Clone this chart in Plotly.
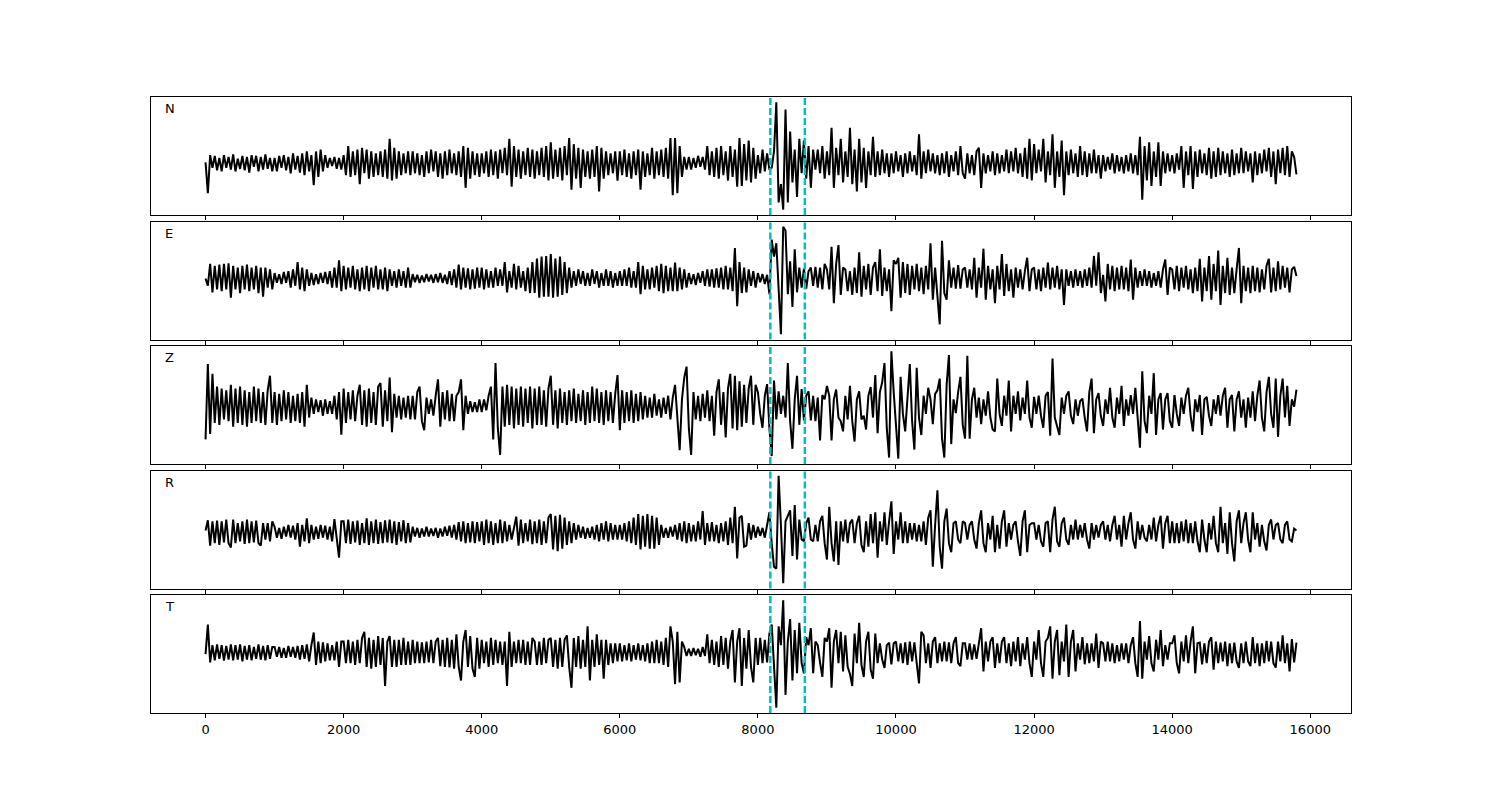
import numpy as np
import plotly.graph_objects as go

# ---------------- data (arbitrary amplitude units) ----------------
# each trace: 15 segments of 1000 samples (30 values each) + last segment 15000..15800 (25 values)
SEGMENT_SPAN = 1000
LAST_START, LAST_END = 15000, 15800

N_TRACE = [
    [0, -85, 20, -15, 18, -22, 12, -25, 20, -15, 15, -20, 22, -25, 10, -18, 18, -22, 15, -28, 20, -12, 18, -25, 15, -20, 22, -18, 12, -25],
    [12, -25, 18, -15, 20, -22, 15, -30, 25, -20, 18, -28, 25, -35, 30, -25, 20, -63, 30, -40, 35, -25, 20, -15, 12, -10, 15, -18, 12, -20],
    [20, -35, 45, -40, 30, -35, 35, -60, 40, -30, 35, -45, 30, -40, 25, -35, 30, -40, 35, -45, 65, -50, 40, -45, 30, -35, 25, -30, 30, -35],
    [30, -30, 25, -35, 20, -40, 30, -30, 35, -25, 30, -40, 25, -45, 30, -35, 35, -30, 25, -35, 30, -40, 45, -70, 40, -45, 30, -35, 25, -40],
    [25, -30, 30, -40, 35, -35, 30, -45, 35, -30, 40, -35, 65, -67, 45, -40, 35, -45, 30, -35, 40, -40, 35, -45, 30, -35, 40, -40, 45, -50],
    [55, -45, 35, -40, 40, -50, 45, -35, 67, -75, 50, -45, 40, -70, 35, -40, 30, -45, 35, -40, 45, -80, 40, -45, 30, -35, 25, -30, 30, -50],
    [30, -35, 35, -40, 25, -45, 30, -35, 35, -75, 30, -40, 25, -35, 40, -45, 30, -35, 35, -40, 40, -45, 67, -90, 67, -85, 45, -40, 15, -20],
    [15, -20, 12, -15, 18, -12, 15, -20, 45, -35, 30, -40, 40, -45, 45, -35, 30, -50, 45, -40, 35, -67, 67, -65, 50, -50, 60, -55, 40, -45],
    [20, -30, 35, -25, 25, -20, -15, 30, 165, -110, -60, -130, 145, -110, 85, -55, 35, -95, 65, -30, 60, -45, 45, -70, 35, -20, 35, -30, 45, -45],
    [30, -35, 95, -70, 40, -35, 65, -55, 30, -40, 95, -60, 35, -80, 65, -55, 40, -70, 30, -35, 70, -40, 30, -35, 35, -30, 25, -40, 25, -30],
    [30, -25, 20, -40, 25, -30, 30, -25, 20, -35, 77, -45, 30, -30, 35, -25, 25, -30, 20, -35, 25, -30, 30, -40, 20, -25, 30, -35, 45, -30],
    [-45, 25, -30, 20, -35, 30, 40, -70, 25, -30, 20, -25, 30, -35, 25, -30, 20, -25, 35, -30, 30, -25, 40, -30, 25, -40, 40, -45, 65, -50],
    [50, -30, 35, -25, 65, -55, 30, -35, 77, -70, 30, -40, 60, -90, 30, -35, 35, -30, 25, -40, 45, -35, 30, -40, 25, -30, 35, -30, 20, -45],
    [20, -25, 15, -20, 25, -30, 20, -25, 15, -30, 20, -25, 25, -30, 20, -35, 70, -103, 45, -50, 55, -65, 30, -40, 55, -65, 30, -30, 25, -25],
    [20, -30, 25, -20, 45, -70, 30, -35, 45, -73, 30, -40, 35, -30, 25, -35, 40, -45, 30, -40, 40, -35, 30, -30, 25, -40, 35, -35, 25, -30],
    [40, -30, 30, -25, 25, -55, 30, -35, 25, -30, 35, -25, 40, -40, 30, -60, 35, -30, 40, -35, 45, -40, 30, 15, -33],
]

E_TRACE = [
    [0, -20, 40, -38, 35, -30, 38, -35, 40, -30, 42, -53, 35, -30, 30, -40, 35, -30, 38, -35, 30, -30, 35, -40, 30, -50, 30, -25, 25, -30],
    [15, -12, 12, -15, 18, -12, 20, -25, 25, -20, 45, -30, 30, -35, 25, -20, 15, -18, 12, -15, 15, -12, 18, -15, 20, -25, 30, -25, 50, -35],
    [35, -30, 30, -25, 35, -30, 25, -35, 30, -30, 35, -35, 30, -25, 35, -30, 25, -30, 30, -35, 25, -20, 20, -25, 25, -20, 20, -25, 30, -25],
    [12, -10, 10, -12, 8, -10, 12, -8, 10, -12, 12, -10, 15, -12, 10, -15, 20, -18, 25, -25, 38, -30, 30, -25, 28, -30, 25, -28, 30, -25],
    [30, -30, 25, -25, 20, -25, 30, -20, 25, -20, 45, -38, 20, -25, 40, -30, 35, -25, 20, -35, 30, -40, 45, -40, 55, -53, 60, -50, 62, -50],
    [67, -53, 55, -50, 60, -45, 45, -40, 30, -25, 20, -20, 25, -15, 20, -20, 15, -20, 25, -15, 20, -25, 15, -20, 25, -20, 20, -25, 15, -20],
    [20, -20, 25, -20, 30, -25, 20, -25, 45, -43, 35, -30, 25, -30, 30, -25, 35, -35, 40, -40, 35, -35, 30, -35, 44, -35, 30, -30, 25, -25],
    [15, -15, 12, -18, 15, -12, 20, -20, 25, -22, 25, -25, 28, -25, 30, -30, 35, -30, 30, -35, 84, -76, 45, -40, 30, -38, 25, -20, 20, -25],
    [15, -10, 12, -15, 10, -43, 107, 60, 97, -48, -153, 142, 132, -43, 47, -78, 80, -38, 30, -25, 27, -28, 20, 30, -20, 32, -25, 30, -30, 40],
    [25, -30, 87, -68, 40, 92, -45, 30, 25, -35, 20, -45, 30, -40, 72, -50, 35, -30, 40, -45, 30, 45, -35, 80, -48, 30, -35, 25, -90, 50],
    [40, 57, -53, 45, -40, 40, -45, 35, -30, 40, -35, 30, -43, 35, -30, 97, -58, 30, -40, -126, 104, -40, -58, 50, -25, 30, -28, 37, -28, 25],
    [30, -25, 25, -30, 57, -53, 30, -25, 82, -58, 35, -30, 25, -68, 35, -30, 67, -48, 40, -35, 25, -53, 30, -25, 25, -30, 20, 57, -35, 25],
    [30, -30, 25, -35, 30, -25, 44, -30, 30, -25, 35, -30, 25, -73, 25, -20, 20, -25, 25, -20, 20, -25, 25, -20, 30, -25, 62, -20, 72, -40],
    [10, -63, 40, -30, 35, -35, 30, -30, 35, -30, 30, -35, 52, -58, 30, -25, 20, -20, 25, -20, 20, -25, 15, -20, 20, -25, 25, 52, -45, 30],
    [25, -30, 35, -35, 30, -25, 35, -30, 25, -40, 30, -35, 54, -63, 30, -35, 62, -58, 40, -35, 77, -73, 35, -40, 57, -45, 30, -40, 25, 84],
    [-68, 35, -35, 30, -40, 35, -35, 30, -38, 25, -30, 35, 54, -38, 30, -35, 47, -30, 35, -25, 30, -38, 25, 32, 7],
]

Z_TRACE = [
    [-90, 117, -75, 90, -45, 55, -50, 50, -35, 45, -40, 60, -55, 50, -45, 55, -50, 45, -55, 40, -45, 55, -40, 50, -45, 40, -50, 45, 85, -45],
    [40, -50, 35, -40, 45, -35, 40, -45, 30, -40, 35, -45, 40, -55, 60, -30, 25, -20, 20, -15, 18, -25, 20, -20, 15, -20, 30, -35, 40, -77],
    [50, -45, 40, -35, 45, -40, 30, 60, -50, 45, -55, 50, -45, 40, -50, 55, 65, -55, 45, -40, 80, -70, 35, -30, 30, -35, 25, -30, 30, -35],
    [30, -35, 40, 55, -40, -65, 25, -20, 20, -25, 30, 75, -55, 40, -35, 45, -40, 35, -40, 30, 40, 75, -65, 30, -20, 15, -15, 12, -15, 20],
    [-15, 20, -10, 30, 55, -90, 120, -60, -133, 55, -55, 60, -50, 55, -60, 50, -50, 55, -55, 50, -45, 55, -60, 50, -50, 55, -50, 45, -55, 50],
    [85, -50, 45, -60, 50, -45, 40, -50, 45, -40, 50, -45, 35, -40, 45, -50, 40, -45, 55, -40, 50, -45, 40, -50, 45, -40, 40, -45, 35, 87],
    [-65, 45, -45, 40, -40, 45, -45, 35, -40, 40, -35, 30, -30, 25, -30, 35, -25, 20, -30, 25, -20, 30, -35, 25, 60, -40, -120, 20, 80, 110],
    [-60, -133, 40, -35, 30, -40, 35, -30, 45, -40, 30, -80, 40, 75, -50, 40, -85, 50, 90, -60, 85, -65, 70, -55, 60, -45, 50, 85, -50, 60],
    [40, -20, -58, 30, 62, -60, -136, 72, -35, 42, -20, 30, -30, 120, -40, -116, 20, 85, -50, 48, -38, 30, 42, -38, 30, -40, 25, -93, 32, 20],
    [57, 30, -93, 20, 47, -30, -40, -68, 30, -35, 57, -40, -96, 20, 42, -35, -25, -63, 30, 54, -30, 87, -73, 40, 67, 120, -60, -140, 152, 40],
    [-60, -143, 82, -20, -68, 40, 117, -40, -118, 107, -30, -78, 30, -20, 52, 20, -48, 35, 45, 77, -88, -140, 60, 142, -103, 20, -18, 40, 82, -50],
    [-88, 140, -88, 20, 52, -30, 25, -48, 20, -25, 42, -30, -63, -68, 77, -20, -53, 30, -25, 72, -68, 30, -20, 42, -38, 25, -20, 72, -30, -58],
    [27, -20, 30, -25, -58, 30, 40, -80, 132, -30, -53, -78, 25, -20, 30, 42, -25, -48, 20, -25, 15, 22, -30, -68, 40, 77, -73, 20, 37, -25],
    [-53, 20, -20, 52, -30, -58, 25, -20, 57, -53, 20, -25, 32, -20, 52, -30, -113, 97, -40, -73, 30, -20, 92, -78, 20, 37, -63, 20, 37, -40],
    [-58, 32, -20, -53, 25, -20, 30, 52, -25, -68, 20, -15, 32, -78, 20, 27, -25, -53, 20, -20, 32, -25, 30, 52, -58, 20, 32, -68, 20, 42],
    [-30, 20, -58, 25, -30, 42, -40, 30, 72, -30, -68, 40, 82, -20, -58, 77, -83, 30, 77, -30, 57, -53, 20, 0, 47],
]

R_TRACE = [
    [5, 33, -37, 30, -30, 32, -35, 30, -28, 35, -30, -42, 35, -30, 25, -25, 30, -32, 35, -30, 30, -28, 32, -30, -37, 25, -20, 25, -25, 30],
    [15, -15, 12, -18, 15, -12, 20, -15, 18, -20, 25, -40, 20, -25, 38, -30, 20, -20, 15, -18, 20, -15, 18, -20, 15, -25, 36, -20, -70, 30],
    [30, -30, 35, -32, 30, -28, 32, -35, 25, -30, 38, -35, 30, -30, 35, -32, 28, -30, 33, -28, 35, -30, 30, -35, 28, -25, 33, -30, 25, -28],
    [15, -12, 12, -15, 10, -12, 15, -12, 10, -10, 12, -15, 10, -12, 15, -10, 18, -15, 20, -20, 28, -25, 30, -30, 25, -28, 30, -30, 28, -25],
    [30, -35, 35, -30, 30, -35, 25, -30, 35, -30, 30, -25, 20, -20, 15, 43, -37, 35, -30, 25, -25, 35, -33, 30, -30, 35, -35, 30, -30, 40],
    [50, -47, 45, -52, 48, -45, 40, -35, 30, -30, 25, -20, 20, -15, 15, -18, 12, -15, 15, -20, 20, -25, 25, -20, 30, -25, 25, -20, 20, -20],
    [20, -20, 25, -25, 30, -30, 40, -35, 50, -47, 45, -40, 50, -45, 45, -45, 40, -35, 20, -15, 12, -15, 15, -12, 20, -20, 25, -25, 30, -30],
    [25, -25, 20, -25, 30, -20, 58, -35, 25, -25, 28, -25, 20, -30, 25, -25, 30, -35, 40, -30, 70, -72, 40, 45, -40, -37, 25, -20, 20, -15],
    [15, -10, 12, -15, 20, 55, -30, -95, -100, 155, 20, -140, 30, 45, 60, -65, 75, -75, 35, -20, -25, 25, 40, -20, -25, 20, -25, 30, 45, -30],
    [-75, 70, -30, -80, 30, -90, 30, -25, 35, -30, 25, 35, -30, 25, 45, -35, -55, 30, -40, 50, -30, 55, -70, 30, -25, 55, -35, 30, 85, -60],
    [30, -20, 55, -30, 30, -30, 25, -20, 25, -25, 20, -25, 30, -35, 40, 60, -95, 20, 115, -40, -100, 30, 65, -30, -55, 25, 30, -20, -30, 30],
    [25, -20, 20, 30, -20, -45, 25, 60, -30, -55, 25, -20, 45, -55, 20, -45, 30, 60, -40, 25, -20, 20, 30, -25, -65, 30, 60, -55, 20, 25],
    [25, -20, 20, -25, -40, 25, 30, -55, 35, 70, -25, -40, 25, 40, -20, -35, 20, -20, 35, -20, 20, -15, 25, -20, -45, 25, -20, 20, -15, 20],
    [30, -20, 20, -25, 20, 45, -20, 20, -40, 45, -20, 25, 55, -20, -45, 30, -20, 20, -15, -25, 20, -20, 40, -25, 20, 45, -45, 25, 45, -30],
    [30, -30, 25, -30, 30, -25, 35, -30, 25, -30, 30, -25, -55, 35, -20, -55, 25, -20, 45, -30, -55, 70, -30, 25, -60, 55, -30, -80, 30, 60],
    [-30, 25, 55, -20, -55, 55, -20, 25, -40, 20, -25, -50, 20, 35, -20, 20, 25, -20, -30, 20, 30, -20, -25, 10, 5],
]

T_TRACE = [
    [-5, 77, -28, 20, -22, 22, -18, 20, -23, 18, -20, 22, -22, 20, -20, 22, -25, 18, -20, 20, -22, 15, -18, 22, -20, 18, -22, 20, -18, 15],
    [15, -12, 15, -15, 12, -15, 18, -12, 15, -15, 18, -20, 20, -18, 22, -25, 20, 55, -35, 30, -30, 28, -25, 25, -22, 20, -22, 30, -40, 30],
    [30, -30, 35, -30, 30, -35, 35, -30, 40, 57, -40, 40, -45, 35, -40, 45, -35, 40, -93, 30, 45, -40, 35, -40, 35, -35, 40, -35, 30, -35],
    [35, -30, 30, -30, 28, -30, 30, -28, 35, -30, 30, 40, -38, 35, -40, 40, -42, 35, -45, 50, -40, -78, 30, 62, -40, 45, -45, -68, 40, -45],
    [35, -30, 30, -40, 40, -35, 35, -30, 30, -35, 30, -93, 57, -40, 30, -30, 35, -30, 35, -35, 30, -35, 40, 30, -35, 30, -35, 40, -30, 35],
    [40, -40, 35, -45, 40, -40, 35, 47, -40, -98, 40, -40, 45, -45, 35, -40, 72, -78, 35, -40, 50, -35, 35, -73, 35, -35, 25, -30, 25, -25],
    [25, -25, 20, -22, 25, -25, 20, -20, 25, -22, 20, -25, 25, -30, 30, -30, 35, -30, 30, -35, 40, -40, 72, 30, -88, 57, -83, 30, 15, -10],
    [10, -10, 12, -8, 10, -12, 15, -10, 50, -30, 35, -35, 30, -40, 45, -35, 40, -45, 30, 62, -83, 30, 67, -93, 40, -45, 62, -40, -83, 40],
    [-35, 40, -30, 35, -28, 52, 77, -40, -153, 72, 20, 144, -118, 30, 92, -78, 62, -58, 82, -30, -58, 42, 20, 67, -58, 30, 20, -28, -68, 40],
    [30, 67, -98, 30, 62, -30, 57, -53, 47, -40, -60, -93, 52, -30, 82, -35, -68, 30, 57, -48, -73, 52, -30, 25, -20, -43, 20, 27, -33, 25],
    [30, -25, 25, -30, 28, -35, 30, -25, 28, -30, -86, 57, 47, -30, 25, -43, 30, 42, -30, 25, -25, 30, -25, 28, -30, 25, 42, -30, -38, 25],
    [25, -20, 25, -20, 22, -18, 27, 67, -53, 30, -25, 30, 42, -43, 25, -30, 30, 42, -30, 25, -38, 30, -25, 42, -38, 25, -20, 42, -30, -68],
    [30, -20, 62, -30, -68, 30, 40, 72, -73, 30, 62, -63, 30, -25, 77, -68, 30, 62, -53, 25, -20, 42, -33, 25, -30, 25, -25, 52, -43, 30],
    [25, -25, 30, -25, 25, -30, 20, -25, 25, -20, 25, -30, 20, 42, -30, -68, 87, -73, 30, -20, 45, -30, -53, 35, -20, 62, -38, 20, -20, 25],
    [25, 47, -30, -58, 30, -25, 47, -30, 30, 72, -58, 25, 27, -33, 25, -30, 30, 42, -48, 30, -30, 27, -25, 30, -38, 25, -30, 27, -25, -43],
    [25, -30, 30, -25, -38, 42, -30, 25, -38, 25, -30, 32, -25, 30, -30, -42, 30, -25, 47, -30, 25, -53, 37, -28, 27],
]

COMPONENTS = ["N", "E", "Z", "R", "T"]
TRACES = [N_TRACE, E_TRACE, Z_TRACE, R_TRACE, T_TRACE]
PICK_TIMES = [8180, 8680]
X_TICKS = [0, 2000, 4000, 6000, 8000, 10000, 12000, 14000, 16000]

# ---------------- styling / layout ----------------
W, H = 1500, 800
PAGE_OFFSET = 7            # the html page body adds a small offset to the figure
M_L, M_R, M_T, M_B = 150 - PAGE_OFFSET, 150 + PAGE_OFFSET, 96 - PAGE_OFFSET, 88 + PAGE_OFFSET
PANEL_TOPS_PX = [96, 220.5, 345, 469.5, 594]
PANEL_H_PX = 118
PLOT_H = H - M_T - M_B
FONT = "DejaVu Sans"
PICK_COLOR = "#00bfbf"


def build_xy(segments):
    xs, ys = [], []
    n_seg = len(segments)
    for k, seg in enumerate(segments):
        n = len(seg)
        if k < n_seg - 1:
            start = k * SEGMENT_SPAN
            pos = [start + j * SEGMENT_SPAN / n for j in range(n)]
        else:
            pos = [LAST_START + j * (LAST_END - LAST_START) / (n - 1) for j in range(n)]
        xs.extend(pos)
        ys.extend(seg)
    return np.array(xs), np.array(ys, dtype=float)


x_pad = 0.05 * LAST_END
x_range = [-x_pad, LAST_END + x_pad]

fig = go.Figure()
layout = dict(
    width=W, height=H,
    margin=dict(l=M_L, r=M_R, t=M_T, b=M_B),
    paper_bgcolor="white", plot_bgcolor="white",
    showlegend=False,
    font=dict(family=FONT, size=13, color="black"),
)
shapes = []
annotations = []

for i, (name, segs) in enumerate(zip(COMPONENTS, TRACES)):
    idx = i + 1
    sfx = "" if idx == 1 else str(idx)
    x, y = build_xy(segs)
    fig.add_trace(go.Scatter(
        x=x, y=y, mode="lines",
        line=dict(color="black", width=2),
        xaxis="x" + sfx, yaxis="y" + sfx, hoverinfo="skip",
    ))
    top_px = PANEL_TOPS_PX[i] - PAGE_OFFSET
    d1 = (H - M_B - top_px) / PLOT_H
    d0 = (H - M_B - top_px - PANEL_H_PX) / PLOT_H
    ymin, ymax = y.min(), y.max()
    pad = 0.05 * (ymax - ymin)
    layout["yaxis" + sfx] = dict(
        domain=[max(d0, 0), min(d1, 1)], anchor="x" + sfx,
        range=[ymin - pad, ymax + pad],
        showticklabels=False, ticks="", showgrid=False, zeroline=False,
        showline=True, mirror=True, linecolor="black", linewidth=1,
    )
    layout["xaxis" + sfx] = dict(
        domain=[0, 1], anchor="y" + sfx, range=x_range,
        tickmode="array", tickvals=X_TICKS, ticktext=[str(v) for v in X_TICKS],
        ticks="outside", ticklen=4, tickwidth=1, tickcolor="black",
        showticklabels=(idx == len(COMPONENTS)),
        tickfont=dict(family=FONT, size=13, color="black"),
        showgrid=False, zeroline=False,
        showline=True, mirror=True, linecolor="black", linewidth=1,
    )
    ydom = ("y" + sfx + " domain") if sfx else "y domain"
    xdom = ("x" + sfx + " domain") if sfx else "x domain"
    for t in PICK_TIMES:
        shapes.append(dict(
            type="line", xref="x" + sfx, yref=ydom,
            x0=t, x1=t, y0=0, y1=1,
            line=dict(color=PICK_COLOR, width=2.5, dash="7px,3px"), layer="above",
        ))
    annotations.append(dict(
        text=name, xref=xdom, yref=ydom,
        x=0.01, y=0.9, xanchor="left", yanchor="middle", showarrow=False,
        font=dict(family=FONT, size=13, color="black"),
    ))

layout["shapes"] = shapes
layout["annotations"] = annotations
fig.update_layout(**layout)
fig.write_html("out.html")
